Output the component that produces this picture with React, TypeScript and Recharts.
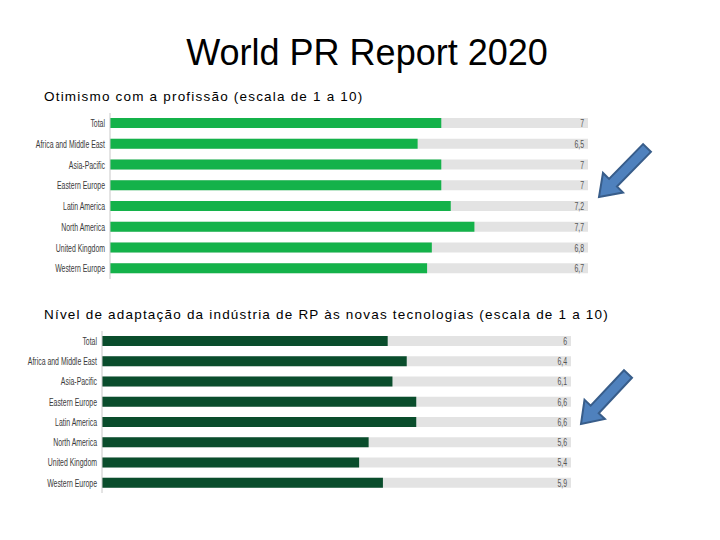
import { BarChart, Bar, XAxis, YAxis } from "recharts";

const regions = [
  "Total",
  "Africa and Middle East",
  "Asia-Pacific",
  "Eastern Europe",
  "Latin America",
  "North America",
  "United Kingdom",
  "Western Europe",
];
// Otimismo com a profissão
const optimism = [7, 6.5, 7, 7, 7.2, 7.7, 6.8, 6.7];
// Adaptação às novas tecnologias
const adaptation = [6, 6.4, 6.1, 6.6, 6.6, 5.6, 5.4, 5.9];

const fmt = (v: number) => String(v).replace(".", ",");

// the source uses a very condensed face, so squeeze a regular sans horizontally
function NarrowTick(props: any) {
  const { x, y, textAnchor, text, fill } = props;
  return (
    <text
      transform={`translate(${x},${y}) scale(0.66,1)`}
      textAnchor={textAnchor}
      dy="0.35em"
      fontSize={10.5}
      fontFamily='"Liberation Sans", Arial, sans-serif'
      fill={fill}
    >
      {text}
    </text>
  );
}

function RegionBars({
  values,
  color,
  width,
  height,
  axisWidth,
  max,
}: {
  values: number[];
  color: string;
  width: number;
  height: number;
  axisWidth: number;
  max: number;
}) {
  const data = regions.map((name, i) => ({ name, v: values[i] }));
  return (
    <BarChart width={width} height={height} data={data} layout="vertical" margin={{ top: 0, right: 0, bottom: 0, left: 0 }}>
      <XAxis type="number" domain={[0, max]} hide />
      <YAxis
        type="category"
        dataKey="name"
        width={axisWidth}
        axisLine={{ stroke: "#c8c8c8" }}
        tickLine={false}
        tickSize={0}
        tickMargin={5}
        interval={0}
        tick={(p: any) => <NarrowTick {...p} text={p.payload.value} fill="#3a3a3a" />}
      />
      <YAxis
        yAxisId="val"
        type="category"
        dataKey="name"
        orientation="right"
        mirror
        axisLine={false}
        tickLine={false}
        tickSize={0}
        tickMargin={4}
        interval={0}
        tick={(p: any) => <NarrowTick {...p} text={fmt(values[p.index ?? p.payload.index])} fill="#555" />}
      />
      <Bar dataKey="v" fill={color} barSize={10} background={{ fill: "#e3e3e3" }} isAnimationActive={false} />
    </BarChart>
  );
}

function Arrow({ x1, y1, x2, y2 }: { x1: number; y1: number; x2: number; y2: number }) {
  const dx = x2 - x1;
  const dy = y2 - y1;
  const len = Math.hypot(dx, dy);
  const ux = dx / len;
  const uy = dy / len;
  const nx = -uy;
  const ny = ux;
  const sw = 5.5;
  const hw = 14;
  const hl = 20;
  const bx = x2 - ux * hl;
  const by = y2 - uy * hl;
  const pts = [
    [x1 + nx * sw, y1 + ny * sw],
    [bx + nx * sw, by + ny * sw],
    [bx + nx * hw, by + ny * hw],
    [x2, y2],
    [bx - nx * hw, by - ny * hw],
    [bx - nx * sw, by - ny * sw],
    [x1 - nx * sw, y1 - ny * sw],
  ]
    .map((p) => p.join(","))
    .join(" ");
  return <polygon points={pts} fill="#4f81bd" stroke="#385d8a" strokeWidth={2} strokeLinejoin="miter" />;
}

const subStyle = {
  position: "absolute" as const,
  left: 44,
  fontFamily: '"Liberation Sans", Arial, sans-serif',
  fontSize: 13.5,
  letterSpacing: 1.2,
  lineHeight: "18px",
  color: "#000",
  whiteSpace: "nowrap" as const,
};

export default function App() {
  return (
    <div style={{ position: "absolute", left: 0, top: 0, width: 720, height: 540, background: "#fff", overflow: "hidden" }}>
      <div
        style={{
          position: "absolute",
          left: 7,
          top: 31,
          width: 720,
          textAlign: "center",
          fontFamily: '"Liberation Sans", Arial, sans-serif',
          fontSize: 36,
          lineHeight: "44px",
          color: "#000",
        }}
      >
        World PR Report 2020
      </div>
      <div style={{ ...subStyle, top: 88 }}>Otimismo com a profissão (escala de 1 a 10)</div>
      <div style={{ ...subStyle, top: 306 }}>
        Nível de adaptação da indústria de RP às novas tecnologias (escala de 1 a 10)
      </div>
      <div style={{ position: "absolute", left: 0, top: 113 }}>
        <RegionBars values={optimism} color="#14b24a" width={588} height={166} axisWidth={110} max={10.1} />
      </div>
      <div style={{ position: "absolute", left: 0, top: 331 }}>
        <RegionBars values={adaptation} color="#0a4d2c" width={571} height={162} axisWidth={102} max={9.85} />
      </div>
      <svg width={720} height={540} style={{ position: "absolute", left: 0, top: 0, pointerEvents: "none" }}>
        <Arrow x1={647} y1={148} x2={599} y2={197} />
        <Arrow x1={628} y1={374} x2={581} y2={424} />
      </svg>
    </div>
  );
}
